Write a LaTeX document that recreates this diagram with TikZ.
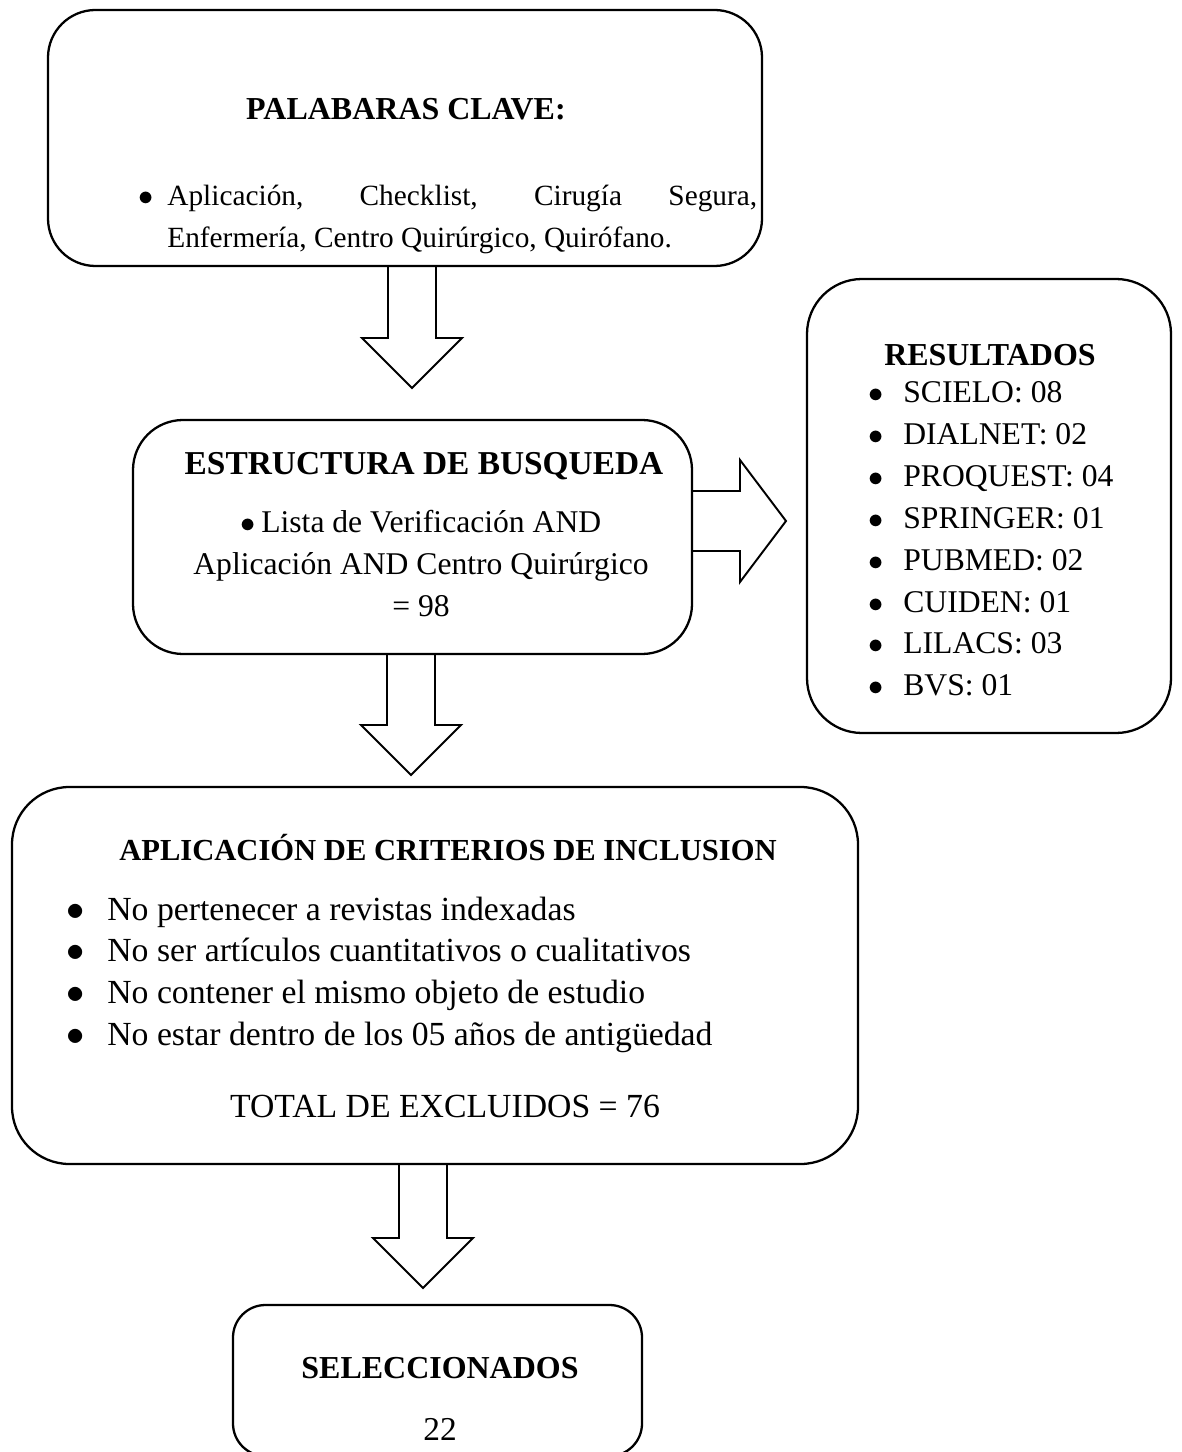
\documentclass[tikz,border=0pt]{standalone}
\usepackage{fontspec}
\setmainfont{Liberation Serif}
\usetikzlibrary{calc}

\def\px{0.02cm}
\tikzset{
  caja/.style={draw, line width=1.3pt, inner sep=0pt},
  flecha/.style={draw, line width=1.1pt, line join=miter},
  txt/.style={inner sep=0pt, font=\fontsize{#1}{24}\selectfont},
  txt/.default=18,
  titulo/.style={inner sep=0pt, font=\fontsize{#1}{24}\selectfont\bfseries},
  titulo/.default=18.2,
}
\newcommand\vineta{$\bullet$}

% flecha de bloque hacia abajo: #1 = caja de origen, #2 = punta
\newcommand\flechaabajo[2]{%
  \draw[flecha] ($(#1.south -| #2)+(-24,0)$) -- ($(#2)+(-24,-50)$) -- ($(#2)+(-50,-50)$)
    -- (#2) -- ($(#2)+(50,-50)$) -- ($(#2)+(24,-50)$) -- ($(#1.south -| #2)+(24,0)$);
}

\begin{document}
\begin{tikzpicture}[x=0.02cm, y=-0.02cm]
\useasboundingbox (0,0) rectangle (1181,1452);

%% cajas
\node[caja, rounded corners=0.95cm, minimum width=714*\px, minimum height=256*\px] (clave) at (405,138) {};
\node[caja, rounded corners=1cm, minimum width=559*\px, minimum height=234*\px] (busq) at (412.5,537) {};
\node[caja, rounded corners=1.1cm, minimum width=364*\px, minimum height=454*\px] (res) at (989,506) {};
\node[caja, rounded corners=1.15cm, minimum width=846*\px, minimum height=377*\px] (crit) at (435,975.5) {};
\node[caja, rounded corners=0.65cm, minimum width=409*\px, minimum height=151*\px] (sel) at (437.5,1380.5) {};

%% palabras clave
\node[titulo, anchor=base] (claveT) at (406,120) {PALABARAS CLAVE:};
\node[txt=16.7, anchor=base] (claveB) at (146,206) {\vineta};
\node[txt=16.7, anchor=base west] (clave1) at (167,206) {\makebox[11.8cm][s]{Aplicación, Checklist, Cirugía Segura,}};
\node[txt=16.7, anchor=base west] (clave2) at (167,248) {Enfermería, Centro Quirúrgico, Quirófano.};

%% estructura de busqueda
\node[titulo=19, anchor=base] (busqT) at (424,475) {ESTRUCTURA DE BUSQUEDA};
\foreach \lin [count=\k from 0] in {\vineta\,Lista de Verificación AND, Aplicación AND Centro Quirúrgico, = 98}{
  \node[txt, anchor=base] (busq\k) at (421,{532+42*\k}) {\lin};
}

%% resultados por base de datos
\node[titulo, anchor=base] (resT) at (990,366) {RESULTADOS};
\foreach \nom [count=\k from 0] in {SCIELO: 08, DIALNET: 02, PROQUEST: 04, SPRINGER: 01,
    PUBMED: 02, CUIDEN: 01, LILACS: 03, BVS: 01}{
  \node[txt, anchor=base] (resB\k) at (876,{403+41.8*\k}) {\vineta};
  \node[txt, anchor=base west] (res\k) at (903,{403+41.8*\k}) {\nom};
}

%% criterios
\node[titulo=17.4, anchor=base] (critT) at (448,860) {APLICACIÓN DE CRITERIOS DE INCLUSION};
\foreach \crit [count=\k from 0] in {No pertenecer a revistas indexadas,
    No ser artículos cuantitativos o cualitativos, No contener el mismo objeto de estudio,
    No estar dentro de los 05 años de antigüedad}{
  \node[txt=19.2, anchor=base] (critB\k) at (76,{920+41.7*\k}) {\vineta};
  \node[txt=19.2, anchor=base west] (crit\k) at (107,{920+41.7*\k}) {\crit};
}
\node[txt=19.2, anchor=base] (critTot) at (445,1117) {TOTAL DE EXCLUIDOS = 76};

%% seleccionados
\node[titulo, anchor=base] (selT) at (440,1378) {SELECCIONADOS};
\node[txt=19, anchor=base] (selN) at (440,1440) {22};

%% flechas
\coordinate (punta1) at (412,388);
\coordinate (punta2) at (411,775);
\coordinate (punta3) at (423,1288);
\coordinate (puntaD) at (786,521);
\flechaabajo{clave}{punta1}
\flechaabajo{busq}{punta2}
\flechaabajo{crit}{punta3}
\draw[flecha] ($(busq.east |- puntaD)+(0,-30)$) -- ($(puntaD)+(-46,-30)$) -- ($(puntaD)+(-46,-61)$)
  -- (puntaD) -- ($(puntaD)+(-46,61)$) -- ($(puntaD)+(-46,30)$) -- ($(busq.east |- puntaD)+(0,30)$);
\end{tikzpicture}
\end{document}
